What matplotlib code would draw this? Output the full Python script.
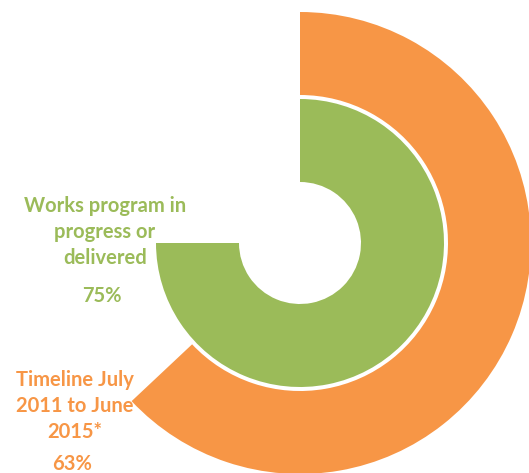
import matplotlib
matplotlib.use("Agg")
import matplotlib.pyplot as plt

series = ["Timeline July\n2011 to June\n2015*", "Works program in\nprogress or\ndelivered"]
values = [63, 75]
labels = ["63%", "75%"]
colors = ["#F79646", "#9BBB59"]

W, H = 529, 473
cx, cy = 300, 243
fig = plt.figure(figsize=(W / 100, H / 100), dpi=100)
ax = fig.add_axes([0, 0, 1, 1])
ax.set_xlim(-cx, W - cx)
ax.set_ylim(-(H - cy), cy)
ax.set_aspect("equal")
ax.axis("off")

def px(x, y):
    return x - cx, cy - y

# outer ring (orange)
ax.pie([values[0], 100 - values[0]], radius=231, startangle=90, counterclock=False,
       colors=[colors[0], "none"], wedgeprops=dict(width=83, linewidth=0))
# inner ring (green)
ax.pie([values[1], 100 - values[1]], radius=144, startangle=90, counterclock=False,
       colors=[colors[1], "none"], wedgeprops=dict(width=83, linewidth=0))
ax.set_xlim(-cx, W - cx)
ax.set_ylim(-(H - cy), cy)

font = dict(family="Lato", fontweight="bold", fontsize=14.5, ha="center", va="center",
            linespacing=1.35)
x, y = px(105, 232)
ax.text(x, y, series[1], color=colors[1], **font)
x, y = px(102, 296)
ax.text(x, y, labels[1], color=colors[1], **font)
x, y = px(75, 406)
ax.text(x, y, series[0], color=colors[0], **font)
x, y = px(72, 464)
ax.text(x, y, labels[0], color=colors[0], **font)

fig.savefig("out.png", dpi=100)
